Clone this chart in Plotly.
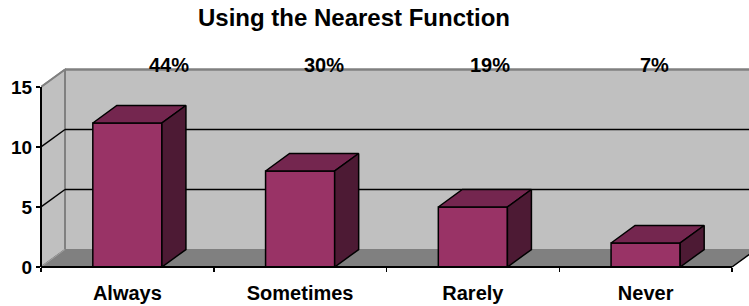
import plotly.graph_objects as go

# ---- data ----
categories = ["Always", "Sometimes", "Rarely", "Never"]
counts = [12, 8, 5, 2]
pct_labels = ["44%", "30%", "19%", "7%"]
y_ticks = [0, 5, 10, 15]

# ---- styling / geometry ----
FONT = "Liberation Sans, Arial, sans-serif"
W, H = 749, 306
ML, MT, MB = 41, 60, 39
PX_PER_CAT = 172.75
PX_PER_UNIT = 12.0
X_VIEW = (W - ML) / PX_PER_CAT
Y_VIEW = (H - MT - MB) / PX_PER_UNIT
DX = 24 / PX_PER_CAT          # depth offset in category units
DY = 17.5 / PX_PER_UNIT       # depth offset in value units
BAR_W = 0.4
YTOP = max(y_ticks)
NCAT = len(categories)
pct_shift = [0.24, 0.137, 0.10, 0.054]

FRONT = "#993366"
TOP = "#74264f"
SIDE = "#4d1a34"
WALL = "#c0c0c0"
FLOOR = "#808080"
EDGE = "#808080"

centers = [i + 0.5 for i in range(NCAT)]

fig = go.Figure()

# front faces of bars
fig.add_trace(go.Bar(
    x=centers, y=counts, width=BAR_W,
    marker=dict(color=FRONT, line=dict(color="black", width=1.5)),
    hoverinfo="skip", showlegend=False,
))

# top and side faces
tx, ty, sx, sy = [], [], [], []
for c, v in zip(centers, counts):
    l, r = c - BAR_W / 2, c + BAR_W / 2
    tx += [l, r, r + DX, l + DX, l, None]
    ty += [v, v, v + DY, v + DY, v, None]
    sx += [r, r + DX, r + DX, r, r, None]
    sy += [0, DY, v + DY, v, 0, None]
fig.add_trace(go.Scatter(x=tx, y=ty, mode="lines", fill="toself", fillcolor=TOP,
                         line=dict(color="black", width=1.5), hoverinfo="skip", showlegend=False))
fig.add_trace(go.Scatter(x=sx, y=sy, mode="lines", fill="toself", fillcolor=SIDE,
                         line=dict(color="black", width=1.5), hoverinfo="skip", showlegend=False))

shapes = []
def path(pts):
    return "M " + " L ".join(f"{x},{y}" for x, y in pts) + " Z"

# back wall
shapes.append(dict(type="path", xref="x", yref="y", layer="below",
                   path=path([(DX, DY), (NCAT + DX, DY), (NCAT + DX, YTOP + DY), (DX, YTOP + DY)]),
                   fillcolor=WALL, line=dict(color=EDGE, width=1)))
# left wall
shapes.append(dict(type="path", xref="x", yref="y", layer="below",
                   path=path([(0, 0), (DX, DY), (DX, YTOP + DY), (0, YTOP)]),
                   fillcolor=WALL, line=dict(color=EDGE, width=1.5)))
# floor
shapes.append(dict(type="path", xref="x", yref="y", layer="below",
                   path=path([(0, 0), (NCAT, 0), (NCAT + DX, DY), (DX, DY)]),
                   fillcolor=FLOOR, line=dict(color=FLOOR, width=1)))
# wall top edge
shapes.append(dict(type="line", xref="x", yref="y", layer="below",
                   x0=0, y0=YTOP, x1=DX, y1=YTOP + DY, line=dict(color=EDGE, width=2)))
shapes.append(dict(type="line", xref="x", yref="y", layer="below",
                   x0=DX, y0=YTOP + DY, x1=NCAT + DX, y1=YTOP + DY, line=dict(color=EDGE, width=2.5)))
shapes.append(dict(type="line", xref="x", yref="y", layer="below",
                   x0=DX, y0=DY, x1=DX, y1=YTOP + DY, line=dict(color=EDGE, width=2)))
# gridlines
for t in y_ticks:
    if t == 0 or t == YTOP:
        continue
    shapes.append(dict(type="line", xref="x", yref="y", layer="below",
                       x0=0, y0=t, x1=DX, y1=t + DY, line=dict(color="black", width=1.5)))
    shapes.append(dict(type="line", xref="x", yref="y", layer="below",
                       x0=DX, y0=t + DY, x1=NCAT + DX, y1=t + DY, line=dict(color="black", width=1.5)))
# left wall bottom diagonal edge (lighter)
shapes.append(dict(type="line", xref="x", yref="y", layer="below",
                   x0=0, y0=0, x1=DX, y1=DY, line=dict(color="#a0a0a0", width=1)))

def py(v):
    return v / Y_VIEW

# front axis lines
shapes.append(dict(type="line", xref="paper", yref="y", layer="above",
                   x0=0, y0=0, x1=0, y1=YTOP, line=dict(color="black", width=2)))
shapes.append(dict(type="line", xref="x", yref="paper", layer="above",
                   x0=0, y0=py(0), x1=NCAT, y1=py(0), line=dict(color="black", width=2)))
shapes.append(dict(type="line", xref="x", yref="paper", layer="above",
                   x0=NCAT, y0=py(0), x1=NCAT + DX, y1=py(DY), line=dict(color="black", width=1.5)))

annotations = []
for c, lab, s in zip(centers, pct_labels, pct_shift):
    annotations.append(dict(x=c + s, y=YTOP + DY + 0.4, xref="x", yref="y", text=lab,
                            showarrow=False, xanchor="center", yanchor="middle",
                            font=dict(family=FONT, size=20, color="black", weight="bold")))

fig.update_layout(
    width=W, height=H, autosize=False,
    margin=dict(l=ML, r=0, t=MT, b=MB, pad=0, autoexpand=False),
    paper_bgcolor="white", plot_bgcolor="white",
    title=dict(text="Using the Nearest Function", x=354 / W, xref="container", xanchor="center",
               y=1 - 18 / H, yref="container", yanchor="middle", automargin=False,
               font=dict(family=FONT, size=24, color="black", weight="bold")),
    xaxis=dict(range=[0, X_VIEW], tickvals=centers, ticktext=categories, ticks="",
               showgrid=False, zeroline=False, showline=False, automargin=False,
               ticklabelstandoff=12,
               tickfont=dict(family=FONT, size=20, color="black", weight="bold"),
               minor=dict(tickvals=list(range(NCAT + 1)), ticks="outside", ticklen=4,
                          tickwidth=1.5, tickcolor="black", showgrid=False)),
    yaxis=dict(range=[0, Y_VIEW], tickvals=y_ticks, ticks="outside", ticklen=4,
               tickwidth=1.5, tickcolor="black", showgrid=False, zeroline=False, showline=False,
               automargin=False,
               tickfont=dict(family=FONT, size=19, color="black", weight="bold")),
    shapes=shapes, annotations=annotations, bargap=0,
)

fig.write_html("out.html", config={"displayModeBar": False, "staticPlot": True},
               post_script="document.body.style.margin='0';document.body.style.overflow='hidden';")
